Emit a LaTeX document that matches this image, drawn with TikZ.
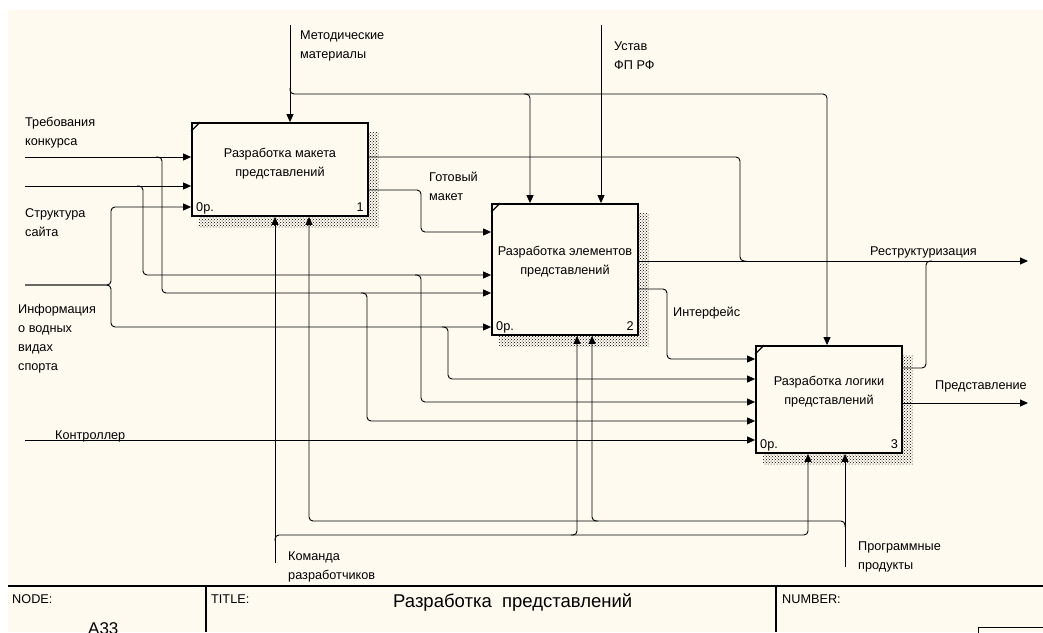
\documentclass[tikz,border=0pt]{standalone}
\usepackage{fontspec}
\setmainfont{Liberation Sans}
\usetikzlibrary{arrows.meta,patterns,calc,backgrounds}
\definecolor{bgc}{RGB}{255,250,240}
\newcommand\lblf{\fontsize{12.7}{19}\selectfont}
\tikzset{
  conn/.style={line width=0.9pt, rounded corners=4pt},
  arr/.style={conn, -{Triangle[length=8pt,width=7pt]}},
  fbox/.style={draw, line width=1.8pt, fill=bgc, inner sep=0pt},
  lbl/.style={anchor=north west, inner sep=0pt, align=left, font=\lblf},
  btxt/.style={anchor=north, inner sep=0pt, align=center, font=\lblf},
  bnum/.style={inner sep=0pt, font=\lblf},
  shad/.style={pattern=crosshatch dots, pattern color=black},
  frame/.style={line width=1.2pt},
  corner/.style={line width=1.3pt}
}
\begin{document}
\begin{tikzpicture}[x=1pt,y=-1pt]
\useasboundingbox (0,0) rectangle (1043,632);
% boxes
\node[fbox, minimum width=176pt, minimum height=93pt] (b1) at (280,169.5) {};
\node[fbox, minimum width=146pt, minimum height=131pt] (b2) at (565,269.5) {};
\node[fbox, minimum width=146pt, minimum height=107pt] (b3) at (829,399.5) {};
\begin{scope}[on background layer]
  \fill[white] (0,0) rectangle (1043,632);
  \fill[bgc] (8,10) rectangle (1043,632);
  \foreach \b in {b1,b2,b3}
    \fill[shad] ($(\b.south west)+(8,11)$) rectangle ($(\b.north east)+(10,10)$);
\end{scope}
\foreach \b in {b1,b2,b3}
  \draw[corner] ($(\b.north west)+(0,9)$) -- ($(\b.north west)+(9,0)$);
% box texts
\node[btxt] (t1) at (280,144.2) {\strut Разработка макета\\представлений};
\node[btxt] (t2) at (565,242.2) {\strut Разработка элементов\\представлений};
\node[btxt] (t3) at (829,372.2) {\strut Разработка логики\\представлений};
\node[bnum, anchor=base west] (p1) at (196,211.5) {0р.};
\node[bnum, anchor=base east] (n1) at (364,211.5) {1};
\node[bnum, anchor=base west] (p2) at (496,330.5) {0р.};
\node[bnum, anchor=base east] (n2) at (634,330.5) {2};
\node[bnum, anchor=base west] (p3) at (760,448.5) {0р.};
\node[bnum, anchor=base east] (n3) at (898,448.5) {3};
% free ends
\coordinate (iTK) at (25,157);
\coordinate (iSS) at (25,186);
\coordinate (iInf) at (25,285);
\coordinate (iKon) at (25,440);
\coordinate (cMet) at (290,25);
\coordinate (cUst) at (601,25);
\coordinate (oRes) at (1028,261);
\coordinate (oPre) at (1028,403);
\coordinate (mKom) at (275,563);
\coordinate (mProg) at (845,567);
% inputs
\draw[arr] (iTK) -- (iTK -| b1.west);
\draw[arr] (iSS) -- (iSS -| b1.west);
\draw[arr] (iInf) -| (111,207) -- (b1.west |- 0,207);
\draw[arr] (iInf) -| (111,327) -- (b2.west |- 0,327);
\draw[arr] (156,157) -- (162,157) -- (162,293) -- (b2.west |- 0,293);
\draw[arr] (137,186) -- (143,186) -- (143,275) -- (b2.west |- 0,275);
\draw[arr] (b1.east |- 0,190) -- (421,190) -- (421,232) -- (b2.west |- 0,232);
\draw[arr] (b2.east |- 0,289) -- (667,289) -- (667,359) -- (b3.west |- 0,359);
\draw[arr] (442,327) -- (448,327) -- (448,379) -- (b3.west |- 0,379);
\draw[arr] (415,275) -- (421,275) -- (421,402) -- (b3.west |- 0,402);
\draw[arr] (361,293) -- (367,293) -- (367,421) -- (b3.west |- 0,421);
\draw[arr] (iKon) -- (iKon -| b3.west);
% controls
\draw[arr] (cMet) -- (cMet |- b1.north);
\draw[arr] (290,88) -- (290,94) -- (530,94) -- (b2.north -| 530,0);
\draw[arr] (524,94) -- (827,94) -- (b3.north -| 827,0);
\draw[arr] (cUst) -- (cUst |- b2.north);
% outputs
\draw[arr] (b2.east |- 0,261) -- (oRes);
\draw[conn] (b1.east |- 0,157) -- (740,157) -- (740,261) -- (746,261);
\draw[conn] (b3.east |- 0,368) -- (926,368) -- (926,261) -- (932,261);
\draw[arr] (b3.east |- 0,403) -- (oPre);
% mechanisms
\draw[arr] (mKom) -- (mKom |- b1.south);
\draw[arr] (275,541) -- (275,535) -- (808,535) -- (b3.south -| 808,0);
\draw[arr] (571,535) -- (577,535) -- (b2.south -| 577,0);
\draw[arr] (mProg) -- (mProg |- b3.south);
\draw[arr] (845,527) -- (845,521) -- (309,521) -- (b1.south -| 309,0);
\draw[arr] (598,521) -- (592,521) -- (b2.south -| 592,0);
% labels
\node[lbl] (lMet) at (300,26.2) {\strut Методические\\материалы};
\node[lbl] (lUst) at (614,37.2) {\strut Устав\\ФП РФ};
\node[lbl] (lTK) at (25,113.2) {\strut Требования\\конкурса};
\node[lbl] (lSS) at (25,204.2) {\strut Структура\\сайта};
\node[lbl] (lInf) at (18,300.2) {\strut Информация\\о водных\\видах\\спорта};
\node[lbl] (lGM) at (429,168.2) {\strut Готовый\\макет};
\node[lbl] (lRes) at (870,242.2) {\strut Реструктуризация};
\node[lbl] (lInt) at (673,303.2) {\strut Интерфейс};
\node[lbl] (lPre) at (935,376.2) {\strut Представление};
\node[lbl] (lKon) at (55,426.2) {\strut Контроллер};
\node[lbl] (lKom) at (288,547.2) {\strut Команда\\разработчиков};
\node[lbl] (lProg) at (858,537.2) {\strut Программные\\продукты};
% frame
\draw[frame] (8,586) -- (1043,586);
\draw[frame] (206,586) -- (206,632);
\draw[frame] (776,586) -- (776,632);
\draw[line width=1pt] (978,627) rectangle (1050,640);
\node[lbl] (fNode) at (12,590.2) {\strut NODE:};
\node[lbl] (fTitle) at (211,590.2) {\strut TITLE:};
\node[lbl] (fNum) at (782,590.2) {\strut NUMBER:};
\node[inner sep=0pt, anchor=base west, font=\fontsize{17}{20}\selectfont] (fA) at (88,634) {A33};
\node[inner sep=0pt, anchor=base west, font=\fontsize{18.5}{22}\selectfont] (fT) at (393,607) {Разработка~~представлений};
\end{tikzpicture}
\end{document}
